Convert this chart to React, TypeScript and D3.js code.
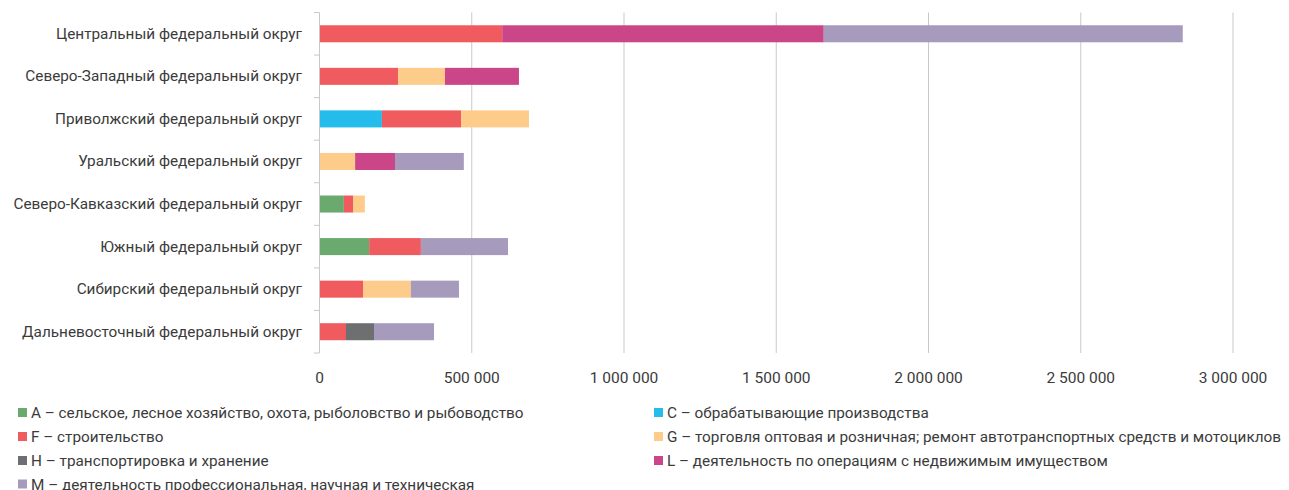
import React from "react";
import * as d3 from "d3";

const regions = [
  "Центральный федеральный округ",
  "Северо-Западный федеральный округ",
  "Приволжский федеральный округ",
  "Уральский федеральный округ",
  "Северо-Кавказский федеральный округ",
  "Южный федеральный округ",
  "Сибирский федеральный округ",
  "Дальневосточный федеральный округ",
];

const seriesKeys = ["A", "C", "F", "G", "H", "L", "M"];
const seriesNames = [
  "A – сельское, лесное хозяйство, охота, рыболовство и рыбоводство",
  "C – обрабатывающие производства",
  "F – строительство",
  "G – торговля оптовая и розничная; ремонт автотранспортных средств и мотоциклов",
  "H – транспортировка и хранение",
  "L – деятельность по операциям с недвижимым имуществом",
  "M – деятельность профессиональная, научная и техническая",
];
const seriesColors = ["#6BAA6E", "#23BCEB", "#EF5B5E", "#FDCB8A", "#6D6F70", "#CB4688", "#A69BBD"];

const valuesA = [0, 0, 0, 0, 80000, 163000, 0, 0];
const valuesC = [0, 0, 205000, 0, 0, 0, 0, 0];
const valuesF = [600000, 258000, 260000, 0, 30000, 170000, 143000, 87000];
const valuesG = [0, 154000, 223000, 117000, 39000, 0, 157000, 0];
const valuesH = [0, 0, 0, 0, 0, 0, 0, 92000];
const valuesL = [1056000, 243000, 0, 131000, 0, 0, 0, 0];
const valuesM = [1179000, 0, 0, 226000, 0, 286000, 158000, 197000];

const xTicks = [0, 500000, 1000000, 1500000, 2000000, 2500000, 3000000];

const W = 1289;
const H = 490;
const FONT = "Roboto, 'Noto Sans', sans-serif";
const TEXT = "#3b3b3b";

export default function App() {
  const seriesValues = [valuesA, valuesC, valuesF, valuesG, valuesH, valuesL, valuesM];
  const rows = regions.map((r, i) => {
    const o: any = { region: r };
    seriesKeys.forEach((k, j) => (o[k] = seriesValues[j][i]));
    return o;
  });
  const stacked = d3.stack().keys(seriesKeys)(rows);

  const x = d3.scaleLinear().domain([0, 3000000]).range([319.5, 1233]);
  const y = d3.scaleBand().domain(regions).range([12.5, 353]).paddingInner(0.6).paddingOuter(0.3);
  const band = d3.scaleBand().domain(regions).range([12.5, 353]);

  const loc = d3.formatLocale({ decimal: ",", thousands: " ", grouping: [3], currency: ["", ""] });
  const fmt = loc.format(",d");

  const legendCols = [18, 654];
  const legendRowY = [413, 437, 461, 484.5];

  return (
    <div style={{ position: "absolute", left: 0, top: 0 }}>
      <svg width={W} height={H} style={{ display: "block" }} fontFamily={FONT}>
        <rect width={W} height={H} fill="#fff" />
        {xTicks.slice(1).map((t) => (
          <line key={t} x1={x(t)} x2={x(t)} y1={12.5} y2={353} stroke="#c9c9c9" strokeWidth={1} />
        ))}
        {stacked.map((s, si) => (
          <g key={s.key} fill={seriesColors[si]}>
            {s.map((d, i) =>
              d[1] - d[0] > 0 ? (
                <rect
                  key={i}
                  x={x(d[0])}
                  width={x(d[1]) - x(d[0])}
                  y={y(regions[i])}
                  height={y.bandwidth()}
                />
              ) : null
            )}
          </g>
        ))}
        <line x1={319.5} x2={319.5} y1={12.5} y2={353} stroke="#c9c9c9" strokeWidth={1} />
        {regions.map((r) => (
          <line key={r} x1={314} x2={319.5} y1={band(r)!} y2={band(r)!} stroke="#c9c9c9" />
        ))}
        <line x1={314} x2={319.5} y1={353} y2={353} stroke="#c9c9c9" />
        {regions.map((r) => (
          <text
            key={r}
            x={302}
            y={band(r)! + band.bandwidth() / 2}
            textAnchor="end"
            dominantBaseline="central"
            fontSize={15.3}
            fill={TEXT}
          >
            {r}
          </text>
        ))}
        {xTicks.map((t) => (
          <text key={t} x={x(t)} y={378} textAnchor="middle" dominantBaseline="central" fontSize={15.5} fill={TEXT}>
            {fmt(t)}
          </text>
        ))}
        {seriesNames.map((n, i) => {
          const col = i % 2;
          const row = Math.floor(i / 2);
          const lx = legendCols[col];
          const ly = legendRowY[row];
          return (
            <g key={n}>
              <rect x={lx} y={ly - 5} width={9} height={9} fill={seriesColors[i]} />
              <text x={lx + 13} y={ly} dominantBaseline="central" fontSize={15.3} fill={TEXT}>
                {n}
              </text>
            </g>
          );
        })}
      </svg>
    </div>
  );
}
